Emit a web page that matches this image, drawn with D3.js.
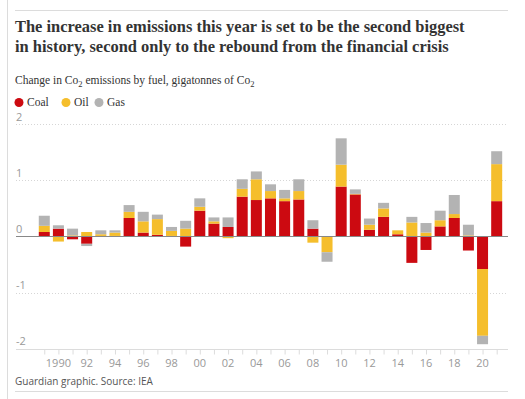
<!DOCTYPE html>
<html>
<head>
<meta charset="utf-8">
<script src="https://cdn.jsdelivr.net/npm/d3@7"></script>
<style>
  html, body { margin: 0; padding: 0; background: #fff; }
  svg { display: block; }
</style>
</head>
<body>
<div class="chart"></div>
<script>
// 数据
const years = d3.range(1989, 2022);
const coal = [0.08, 0.14, -0.05, -0.13, 0.01, 0.01, 0.33, 0.07, 0.03, 0.01, -0.18, 0.46, 0.23, 0.17, 0.71, 0.65, 0.68,
  0.63, 0.66, 0.14, 0.00, 0.89, 0.75, 0.12, 0.35, 0.04, -0.47, -0.24, 0.18, 0.33, -0.25, -0.58, 0.63];
const oil = [0.11, -0.09, 0.02, 0.08, 0.03, 0.06, 0.11, 0.20, 0.28, 0.09, 0.14, 0.07, 0.04, -0.03, 0.14, 0.37, 0.13,
  0.05, 0.15, -0.11, -0.28, 0.39, 0.01, 0.09, 0.15, 0.07, 0.25, 0.07, 0.11, 0.07, 0.02, -1.19, 0.66];
const gas = [0.18, 0.06, 0.12, -0.04, 0.07, 0.04, 0.12, 0.17, 0.08, 0.07, 0.14, 0.15, 0.07, 0.17, 0.17, 0.14, 0.12,
  0.15, 0.21, 0.15, -0.17, 0.47, 0.08, 0.11, 0.10, 0.00, 0.10, 0.17, 0.17, 0.34, 0.19, -0.15, 0.23];
const fuels = ['Coal', 'Oil', 'Gas'];
const colors = ['#cc0a11', '#f5be2c', '#b3b3b3'];
const yTicks = [2, 1, 0, -1, -2];
const xLabelYears = d3.range(1990, 2021, 2);
const xLabels = ['1990', '92', '94', '96', '98', '00', '02', '04', '06', '08', '10', '12', '14', '16', '18', '20'];

const W = 525, H = 399;
const rows = years.map((y, i) => ({ year: y, Coal: coal[i], Oil: oil[i], Gas: gas[i] }));

let svg = d3.select('.chart')
  .append('svg')
  .attr('width', W)
  .attr('height', H);

// 边框线
svg.append('line').attr('x1', 7.5).attr('x2', 7.5).attr('y1', 0).attr('y2', H)
  .attr('stroke', '#dcdcdc');
svg.append('line').attr('x1', 15).attr('x2', 508).attr('y1', 10.5).attr('y2', 10.5)
  .attr('stroke', '#dcdcdc');
svg.append('line').attr('x1', 15).attr('x2', 508).attr('y1', 391.5).attr('y2', 391.5)
  .attr('stroke', '#dcdcdc');

// 标题
const serif = "'Liberation Serif', 'DejaVu Serif', serif";
const titleLines = ['The increase in emissions this year is set to be the second biggest',
  'in history, second only to the rebound from the financial crisis'];
const titleWidths = [490, 434];
let title = svg.selectAll('text.title')
  .data(titleLines)
  .enter().append('text')
  .attr('class', 'title')
  .attr('x', 15)
  .attr('y', (d, i) => 31.5 + i * 20)
  .attr('font-family', serif)
  .attr('font-weight', 'bold')
  .attr('font-size', 18)
  .attr('fill', '#333')
  .text(d => d);
// 字号按参考宽度缩放
let ratio = 1;
title.each(function (d, i) {
  ratio = Math.min(ratio, titleWidths[i] / this.getComputedTextLength());
});
title.attr('font-size', 18 * ratio);

// 副标题
let sub = svg.append('text')
  .attr('x', 15)
  .attr('y', 84)
  .attr('font-family', serif)
  .attr('font-size', 11.5)
  .attr('fill', '#333');
sub.append('tspan').text('Change in Co');
sub.append('tspan').attr('dy', 3).attr('font-size', 8.5).text('2');
sub.append('tspan').attr('dy', -3).text(' emissions by fuel, gigatonnes of Co');
sub.append('tspan').attr('dy', 3).attr('font-size', 8.5).text('2');

// 图例
const legendX = [19, 66, 99];
let legend = svg.selectAll('g.legend')
  .data(fuels)
  .enter().append('g')
  .attr('class', 'legend')
  .attr('transform', (d, i) => `translate(${legendX[i]},102.5)`);
legend.append('circle')
  .attr('r', 4.5)
  .attr('fill', (d, i) => colors[i]);
legend.append('text')
  .attr('x', 8)
  .attr('y', 3.8)
  .attr('font-family', serif)
  .attr('font-size', 11.5)
  .attr('fill', '#333')
  .text(d => d);

// 比例尺
const x = d3.scaleLinear().domain([1987, 2021.8]).range([16, 508]);
const y = d3.scaleLinear().domain([-2, 2]).range([348.7, 124.3]);
const barW = 11;
const sans = "'Open Sans', 'Noto Sans', sans-serif";

// 网格线
svg.selectAll('line.grid')
  .data(yTicks.filter(d => d !== 0 && d !== -2))
  .enter().append('line')
  .attr('class', 'grid')
  .attr('x1', 16).attr('x2', 508)
  .attr('y1', d => Math.round(y(d)) + 0.5)
  .attr('y2', d => Math.round(y(d)) + 0.5)
  .attr('stroke', '#d6d6d6')
  .attr('stroke-dasharray', '1,2');

svg.selectAll('text.ytick')
  .data(yTicks)
  .enter().append('text')
  .attr('class', 'ytick')
  .attr('x', 16)
  .attr('y', d => y(d) - 3.5)
  .attr('font-family', sans)
  .attr('font-size', 11)
  .attr('fill', '#999')
  .text(d => d);

// x 轴
let xAxis = svg.append('g')
  .attr('transform', `translate(0,${Math.round(y(-2)) + 0.5})`)
  .call(d3.axisBottom(x).tickValues(years).tickSize(5).tickFormat(''));
xAxis.select('.domain').attr('stroke', '#dcdcdc').attr('d', 'M16,0H508');
xAxis.selectAll('.tick line').attr('stroke', '#dcdcdc');

svg.selectAll('text.xlabel')
  .data(xLabelYears)
  .enter().append('text')
  .attr('class', 'xlabel')
  .attr('x', d => x(d))
  .attr('y', 367)
  .attr('text-anchor', 'middle')
  .attr('font-family', sans)
  .attr('font-size', 11)
  .attr('fill', '#999')
  .text((d, i) => xLabels[i]);

// 堆叠柱
const series = d3.stack()
  .keys(fuels)
  .offset(d3.stackOffsetDiverging)(rows);

svg.append('g')
  .selectAll('g')
  .data(series)
  .enter().append('g')
  .attr('fill', (d, i) => colors[i])
  .selectAll('rect')
  .data(d => d)
  .enter().append('rect')
  .attr('x', d => x(d.data.year) - barW / 2)
  .attr('width', barW)
  .attr('y', d => y(Math.max(d[0], d[1])))
  .attr('height', d => Math.abs(y(d[0]) - y(d[1])));

// 零线
svg.append('line')
  .attr('x1', 16).attr('x2', 508)
  .attr('y1', y(0)).attr('y2', y(0))
  .attr('stroke', '#888')
  .attr('stroke-width', 1.2);

// 来源
svg.append('text')
  .attr('x', 15)
  .attr('y', 385)
  .attr('font-family', sans)
  .attr('font-size', 10)
  .attr('fill', '#555')
  .text('Guardian graphic. Source: IEA');
</script>
</body>
</html>
